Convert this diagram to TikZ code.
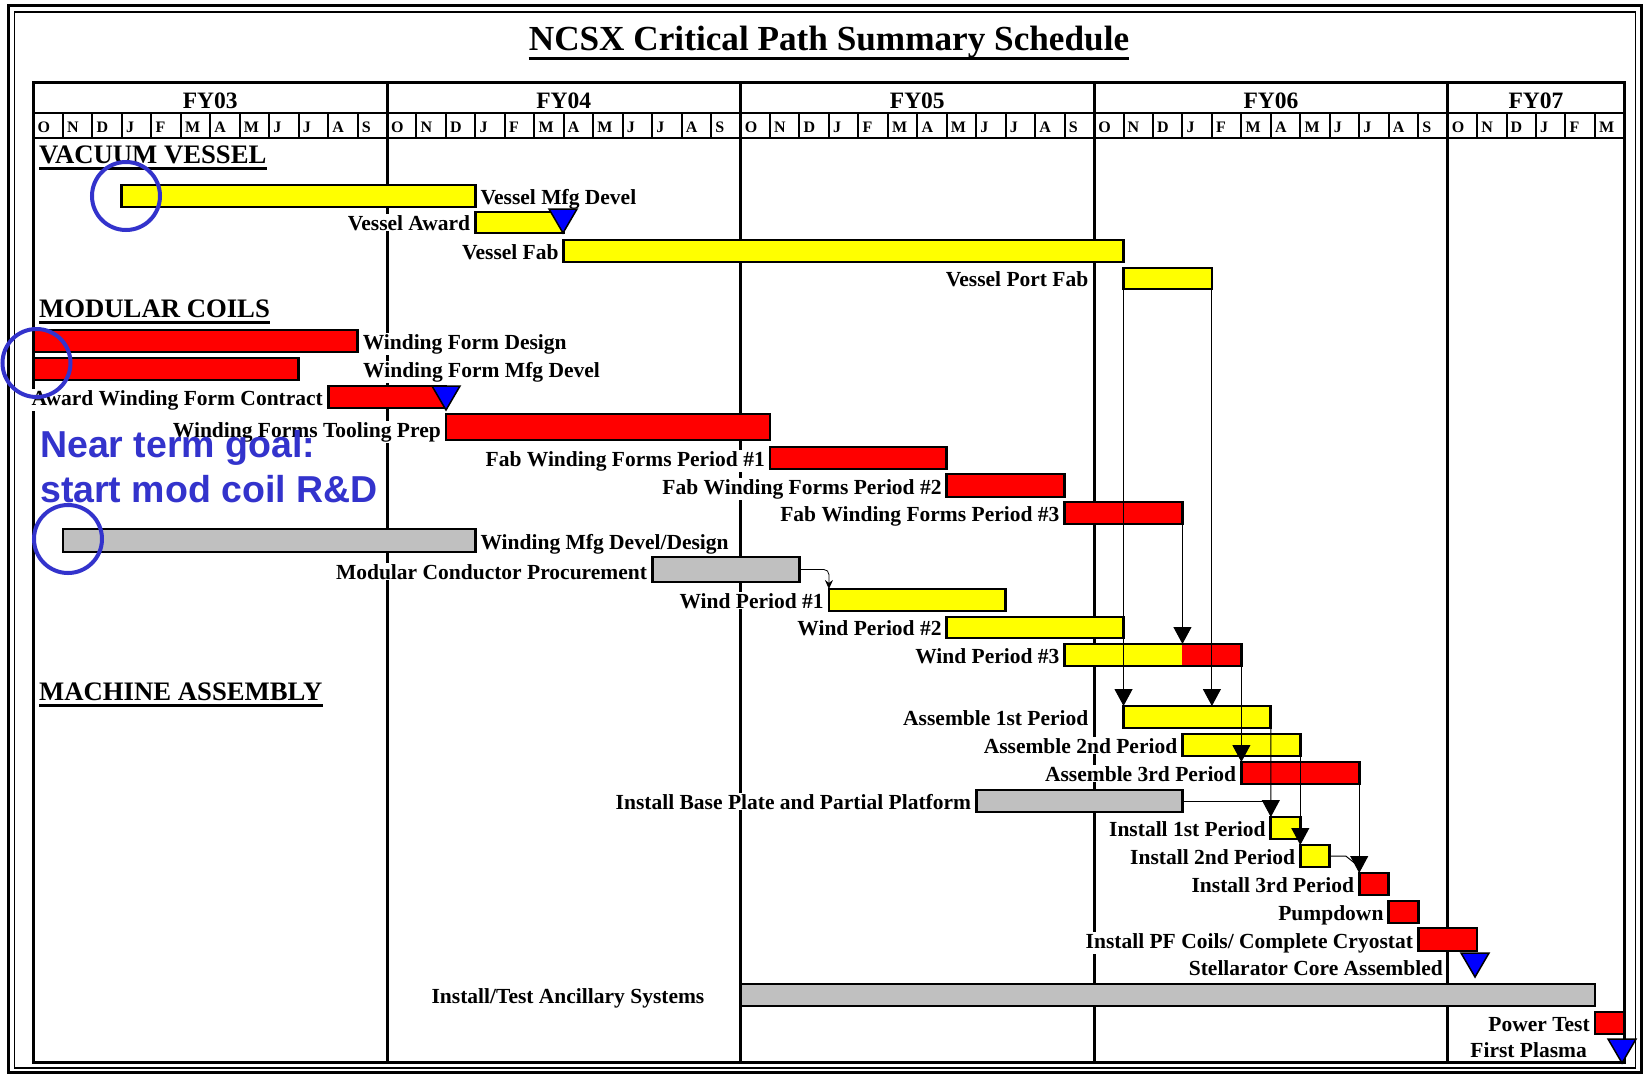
\documentclass[tikz,border=0pt]{standalone}
\usepackage{fontspec}
\setmainfont{Liberation Serif}
\newfontfamily\notefont{Liberation Sans}
\usetikzlibrary{arrows.meta}
\definecolor{barY}{RGB}{255,255,0}
\definecolor{barR}{RGB}{255,0,0}
\definecolor{barG}{RGB}{192,192,192}
\definecolor{msB}{RGB}{0,0,255}
\definecolor{noteB}{RGB}{51,51,204}
\newcommand\taskbar[6]{\node[barbox, fill=#6, minimum width={((#3)-(#2))*29.46pt}, minimum height={((#5)-(#4))*1pt}] (#1) at ({33.5+29.46*(#2)},#4) {};}
\newcommand\milestone[3]{\coordinate (#1) at (#2,#3); \filldraw[fill=msB, draw=black, line width=1.5pt, line join=miter] (#1) -- ++(-14,-24) -- ++(28,0) -- cycle;}
\begin{document}
\begin{tikzpicture}[x=1pt,y=-1pt,
  barbox/.style={draw=black, line width=2.8pt, inner sep=0pt, outer sep=0pt, anchor=north west},
  lab/.style={font=\fontsize{21.5}{24}\selectfont\bfseries, inner sep=1pt, fill=white},
  labL/.style={lab, anchor=base east, xshift=-4pt, yshift=3pt},
  labR/.style={lab, anchor=base west, xshift=4pt, yshift=3pt},
  hdr/.style={font=\fontsize{26.7}{30}\selectfont\bfseries, inner sep=0pt, anchor=base west},
  fylab/.style={font=\fontsize{23.5}{26}\selectfont\bfseries, inner sep=0pt, anchor=base},
  molab/.style={font=\fontsize{16}{18}\selectfont\bfseries, inner sep=0pt, anchor=base west},
  conn/.style={line width=1pt, -{Triangle[length=17pt,width=18pt]}},
  connline/.style={line width=1pt},
  note/.style={font=\notefont\bfseries\fontsize{37.5}{40}\selectfont, text=noteB, inner sep=0pt, anchor=base west},
  ring/.style={draw=noteB, line width=4pt, circle, minimum size=68pt, inner sep=0pt},
]
\useasboundingbox (0,0) rectangle (1645,1074);
\fill[white] (0,0) rectangle (1645,1074);
% frame
\draw[line width=3pt] (8,5) rectangle (1641,1072);
\draw[line width=1.2pt] (14.5,12) rectangle (1635.5,1068);
% title
\node[font=\fontsize{35.2}{40}\selectfont\bfseries, inner sep=0pt, anchor=base] (title) at (829,50) {NCSX Critical Path Summary Schedule};
\draw[line width=3pt] ([yshift=-8.5pt]title.base west) -- ([yshift=-8.5pt]title.base east);
% grid
\draw[line width=3pt] (33.5,82) rectangle (1624.3,1062);
\draw[line width=2.5pt] (33.5,113) -- (1624.3,113);
\draw[line width=2.5pt] (33.5,138) -- (1624.3,138);
\foreach \i in {1,...,53} \draw[line width=2pt] ({33.5+29.46*\i},113) -- ({33.5+29.46*\i},138);
\foreach \i in {12,24,36,48} \draw[line width=3pt] ({33.5+29.46*\i},82) -- ({33.5+29.46*\i},1062);
\foreach \f/\c in {FY03/210.2, FY04/563.7, FY05/917.3, FY06/1270.9, FY07/1536} \node[fylab] (fy\f) at (\c,108) {\f};
\foreach \l [count=\i from 0] in {O,N,D,J,F,M,A,M,J,J,A,S,O,N,D,J,F,M,A,M,J,J,A,S,O,N,D,J,F,M,A,M,J,J,A,S,O,N,D,J,F,M,A,M,J,J,A,S,O,N,D,J,F,M}
  \node[molab] (mo\i) at ({33.5+29.46*\i+4},132.5) {\l};
% section headers
\node[hdr] (hvv) at (39,163) {VACUUM VESSEL};
\draw[line width=2.5pt] ([yshift=-5.5pt]hvv.base west) -- ([yshift=-5.5pt]hvv.base east);
\node[hdr] (hmc) at (39,317) {MODULAR COILS};
\draw[line width=2.5pt] ([yshift=-5.5pt]hmc.base west) -- ([yshift=-5.5pt]hmc.base east);
\node[hdr] (hma) at (39,700) {MACHINE ASSEMBLY};
\draw[line width=2.5pt] ([yshift=-5.5pt]hma.base west) -- ([yshift=-5.5pt]hma.base east);
% bars
\taskbar{vmd}{3}{15}{185}{207}{barY}
\taskbar{vaw}{15}{18}{212}{233}{barY}
\taskbar{vfb}{18}{37}{240}{262}{barY}
\taskbar{vpf}{37}{40}{268}{289}{barY}
\taskbar{wfd}{0}{11}{330}{352}{barR}
\taskbar{wfm}{0}{9}{358}{380}{barR}
\taskbar{awc}{10}{14}{386}{408}{barR}
\taskbar{wtp}{14}{25}{414}{440}{barR}
\taskbar{fw1}{25}{31}{447}{469}{barR}
\taskbar{fw2}{31}{35}{474}{497}{barR}
\taskbar{fw3}{35}{39}{502}{524}{barR}
\taskbar{wmd}{1}{15}{529}{552}{barG}
\taskbar{mcp}{21}{26}{557}{582}{barG}
\taskbar{wp1}{27}{33}{589}{611}{barY}
\taskbar{wp2}{31}{37}{617}{638}{barY}
\taskbar{wp3}{35}{41}{644}{666}{barY}
\fill[barR] ({33.5+29.46*39},644) rectangle (wp3.south east);
\draw[line width=2.8pt] (wp3.north west) rectangle (wp3.south east);
\taskbar{as1}{37}{42}{706}{728}{barY}
\taskbar{as2}{39}{43}{734}{756}{barY}
\taskbar{as3}{41}{45}{762}{784}{barR}
\taskbar{ibp}{32}{39}{790}{812}{barG}
\taskbar{is1}{42}{43}{817}{839}{barY}
\taskbar{is2}{43}{44}{845}{867}{barY}
\taskbar{is3}{45}{46}{873}{895}{barR}
\taskbar{pmp}{46}{47}{901}{923}{barR}
\taskbar{pfc}{47}{49}{928}{951}{barR}
\taskbar{ats}{24}{53}{984}{1006}{barG}
\taskbar{pwt}{53}{54}{1012}{1034}{barR}
% labels
\node[labR] (l-vmd) at (vmd.south east) {Vessel Mfg Devel};
\node[labL] (l-vaw) at (vaw.south west) {Vessel Award};
\node[labL] (l-vfb) at (vfb.south west) {Vessel Fab};
\node[labL, xshift=-30pt] (l-vpf) at (vpf.south west) {Vessel Port Fab};
\node[labR] (l-wfd) at (wfd.south east) {Winding Form Design};
\node[lab, anchor=base west] (l-wfm) at (362,377) {Winding Form Mfg Devel};
\node[labL] (l-awc) at (awc.south west) {Award Winding Form Contract};
\node[labL] (l-wtp) at (wtp.south west) {Winding Forms Tooling Prep};
\node[labL] (l-fw1) at (fw1.south west) {Fab Winding Forms Period \#1};
\node[labL] (l-fw2) at (fw2.south west) {Fab Winding Forms Period \#2};
\node[labL] (l-fw3) at (fw3.south west) {Fab Winding Forms Period \#3};
\node[labR] (l-wmd) at (wmd.south east) {Winding Mfg Devel/Design};
\node[labL] (l-mcp) at (mcp.south west) {Modular Conductor Procurement};
\node[labL] (l-wp1) at (wp1.south west) {Wind Period \#1};
\node[labL] (l-wp2) at (wp2.south west) {Wind Period \#2};
\node[labL] (l-wp3) at (wp3.south west) {Wind Period \#3};
\node[labL, xshift=-30pt] (l-as1) at (as1.south west) {Assemble 1st Period};
\node[labL] (l-as2) at (as2.south west) {Assemble 2nd Period};
\node[labL] (l-as3) at (as3.south west) {Assemble 3rd Period};
\node[labL] (l-ibp) at (ibp.south west) {Install Base Plate and Partial Platform};
\node[labL] (l-is1) at (is1.south west) {Install 1st Period};
\node[labL] (l-is2) at (is2.south west) {Install 2nd Period};
\node[labL] (l-is3) at (is3.south west) {Install 3rd Period};
\node[labL] (l-pmp) at (pmp.south west) {Pumpdown};
\node[labL] (l-pfc) at (pfc.south west) {Install PF Coils/ Complete Cryostat};
\node[lab, anchor=base east] (l-sca) at (1444,975) {Stellarator Core Assembled};
\node[labL, xshift=-31pt] (l-ats) at (ats.south west) {Install/Test Ancillary Systems};
\node[labL] (l-pwt) at (pwt.south west) {Power Test};
\node[lab, anchor=base east] (l-fp) at (1588,1057) {First Plasma};
% connectors
\draw[conn] (vpf.south west) -- (as1.north west);
\draw[conn] (vpf.south east) -- (vpf.south east |- as1.north);
\draw[conn] (fw3.south east) -- (fw3.south east |- wp3.north);
\draw[conn] (wp3.south east) -- (as3.north west);
\draw[conn] (as1.south east) -- (is1.north west);
\draw[connline] (ibp.east) -- (ibp.east -| as1.south east);
\draw[conn] (as2.south east) -- (is2.north west);
\draw[conn] (as3.south east) -- (is3.north west);
\draw[connline] (is2.east) -- ++(16,0) -- ++(10,8);
\draw[line width=0.8pt, rounded corners=5pt, -{Stealth[length=9pt,width=8pt]}] (mcp.east) -| (wp1.north west);
% milestones
\milestone{mvaw}{563}{233}
\milestone{mawc}{446}{410}
\milestone{msca}{1475}{977}
\milestone{mfp}{1622}{1063}
% annotations
\node[ring] (r1) at (126,196) {};
\node[ring] (r2) at (36.5,363) {};
\node[ring] (r3) at (68,539) {};
\node[note] (n1) at (40,457) {Near term goal:};
\node[note] (n2) at (40,502) {start mod coil R\&D};
\end{tikzpicture}
\end{document}
